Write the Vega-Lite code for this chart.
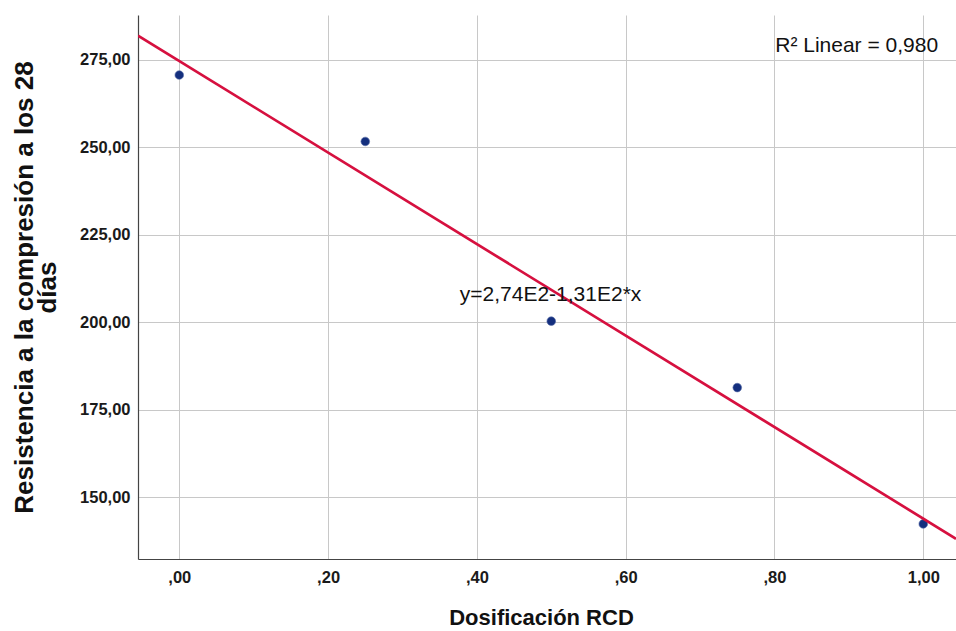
{
  "$schema": "https://vega.github.io/schema/vega-lite/v6.json",
  "width": 818,
  "height": 544,
  "autosize": {"type": "none"},
  "padding": {"left": 138, "top": 15, "right": 0, "bottom": 72},
  "background": "white",
  "config": {
    "view": {"stroke": null},
    "font": "Liberation Sans"
  },
  "datasets": {
    "pts": [
      {"dosificacion": 0.0, "resistencia": 270.7},
      {"dosificacion": 0.25, "resistencia": 251.7},
      {"dosificacion": 0.5, "resistencia": 200.3},
      {"dosificacion": 0.75, "resistencia": 181.3},
      {"dosificacion": 1.0, "resistencia": 142.3}
    ],
    "r2note": [
      {"dosificacion": 0.801, "resistencia": 277.3, "label": "R² Linear = 0,980"}
    ],
    "eqnote": [
      {"dosificacion": 0.499, "resistencia": 206.0, "label": "y=2,74E2-1,31E2*x"}
    ]
  },
  "layer": [
    {
      "data": {"name": "pts"},
      "mark": {"type": "point", "filled": true, "size": 75, "color": "#142f7e", "opacity": 1, "stroke": "#5a6fa8", "strokeWidth": 0.6},
      "encoding": {
        "x": {
          "field": "dosificacion", "type": "quantitative",
          "scale": {"domain": [-0.0555, 1.044], "nice": false, "zero": false},
          "axis": {
            "title": "Dosificación RCD",
            "values": [0, 0.2, 0.4, 0.6, 0.8, 1.0],
            "labelExpr": "datum.value < 1 ? replace(format(datum.value, '.2f'), '0.', ',') : replace(format(datum.value, '.2f'), '.', ',')",
            "ticks": false,
            "labelPadding": 10,
            "labelFont": "Liberation Sans", "labelFontSize": 16.5, "labelFontWeight": "bold", "labelColor": "#1a1a1a",
            "titleFont": "Liberation Sans", "titleFontSize": 22, "titleFontWeight": "bold", "titleColor": "#111111",
            "titlePadding": 22,
            "titleX": 403,
            "grid": true, "gridColor": "#c8c8c8", "gridWidth": 1,
            "domainColor": "#444444", "domainWidth": 1.2
          }
        },
        "y": {
          "field": "resistencia", "type": "quantitative",
          "scale": {"domain": [132.27, 287.87], "nice": false, "zero": false},
          "axis": {
            "title": ["Resistencia a la compresión a los 28", "días"],
            "values": [150, 175, 200, 225, 250, 275],
            "labelExpr": "replace(format(datum.value, '.2f'), '.', ',')",
            "ticks": false,
            "labelPadding": 8,
            "labelFont": "Liberation Sans", "labelFontSize": 16.5, "labelFontWeight": "bold", "labelColor": "#1a1a1a",
            "titleFont": "Liberation Sans", "titleFontSize": 26, "titleFontWeight": "bold", "titleColor": "#111111",
            "titleLineHeight": 23,
            "titlePadding": 19,
            "grid": true, "gridColor": "#c8c8c8", "gridWidth": 1,
            "domainColor": "#444444", "domainWidth": 1.2
          }
        }
      }
    },
    {
      "data": {"name": "pts"},
      "transform": [
        {"regression": "resistencia", "on": "dosificacion", "method": "linear", "extent": [-0.0555, 1.044]}
      ],
      "mark": {"type": "line", "color": "#d6103f", "strokeWidth": 2.7, "clip": true},
      "encoding": {
        "x": {"field": "dosificacion", "type": "quantitative"},
        "y": {"field": "resistencia", "type": "quantitative"}
      }
    },
    {
      "data": {"name": "r2note"},
      "mark": {"type": "text", "font": "Liberation Sans", "fontSize": 21, "fontWeight": "normal", "color": "#111111", "baseline": "alphabetic", "align": "left"},
      "encoding": {
        "x": {"field": "dosificacion", "type": "quantitative"},
        "y": {"field": "resistencia", "type": "quantitative"},
        "text": {"field": "label"}
      }
    },
    {
      "data": {"name": "eqnote"},
      "mark": {"type": "text", "font": "Liberation Sans", "fontSize": 21, "fontWeight": "normal", "color": "#111111", "baseline": "alphabetic", "align": "center"},
      "encoding": {
        "x": {"field": "dosificacion", "type": "quantitative"},
        "y": {"field": "resistencia", "type": "quantitative"},
        "text": {"field": "label"}
      }
    }
  ]
}
